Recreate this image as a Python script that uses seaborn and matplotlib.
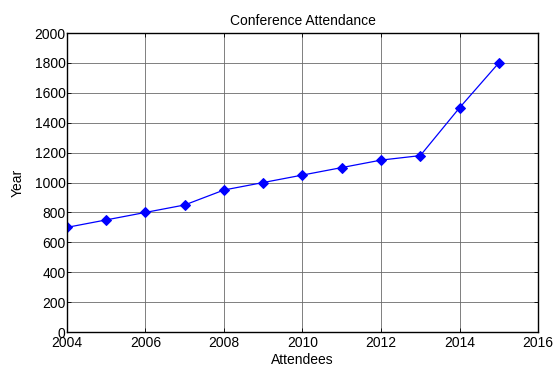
import matplotlib
matplotlib.use("Agg")
import matplotlib.pyplot as plt
import seaborn as sns
import pandas as pd

years = [2004, 2005, 2006, 2007, 2008, 2009, 2010, 2011, 2012, 2013, 2014, 2015]
attendees = [700, 750, 800, 850, 950, 1000, 1050, 1100, 1150, 1180, 1500, 1800]
x_ticks = [2004, 2006, 2008, 2010, 2012, 2014, 2016]
y_ticks = [0, 200, 400, 600, 800, 1000, 1200, 1400, 1600, 1800, 2000]

sns.set_theme(style="white")
plt.rcParams["font.family"] = ["Liberation Sans", "DejaVu Sans"]
plt.rcParams["font.size"] = 10
plt.rcParams["text.color"] = "black"
plt.rcParams["axes.labelcolor"] = "black"

df = pd.DataFrame({"year": years, "attendees": attendees})

fig = plt.figure(figsize=(5.53, 3.71), dpi=100)
ax = fig.add_axes([0.121, 0.105, 0.852, 0.806])

sns.lineplot(data=df, x="year", y="attendees", ax=ax, color="blue",
             linewidth=0.9, marker="D", markersize=5.5,
             markerfacecolor="blue", markeredgecolor="blue")

ax.set_xlim(2004, 2016)
ax.set_ylim(0, 2000)
ax.set_xticks(x_ticks)
ax.set_yticks(y_ticks)
ax.grid(True, color="#6a6a6a", linewidth=0.6, linestyle="-")
for s in ax.spines.values():
    s.set_color("black")
    s.set_linewidth(1.0)
ax.tick_params(direction="in", length=3, width=0.6, colors="black",
               labelsize=10, top=True, right=True, left=True, bottom=True, pad=1)
ax.tick_params(axis="x", pad=3)
ax.set_title("Conference Attendance", fontsize=10, pad=6, color="black")
ax.set_xlabel("Attendees", fontsize=10, labelpad=2)
ax.set_ylabel("Year", fontsize=10, labelpad=7)

fig.savefig("out.png", dpi=100)
